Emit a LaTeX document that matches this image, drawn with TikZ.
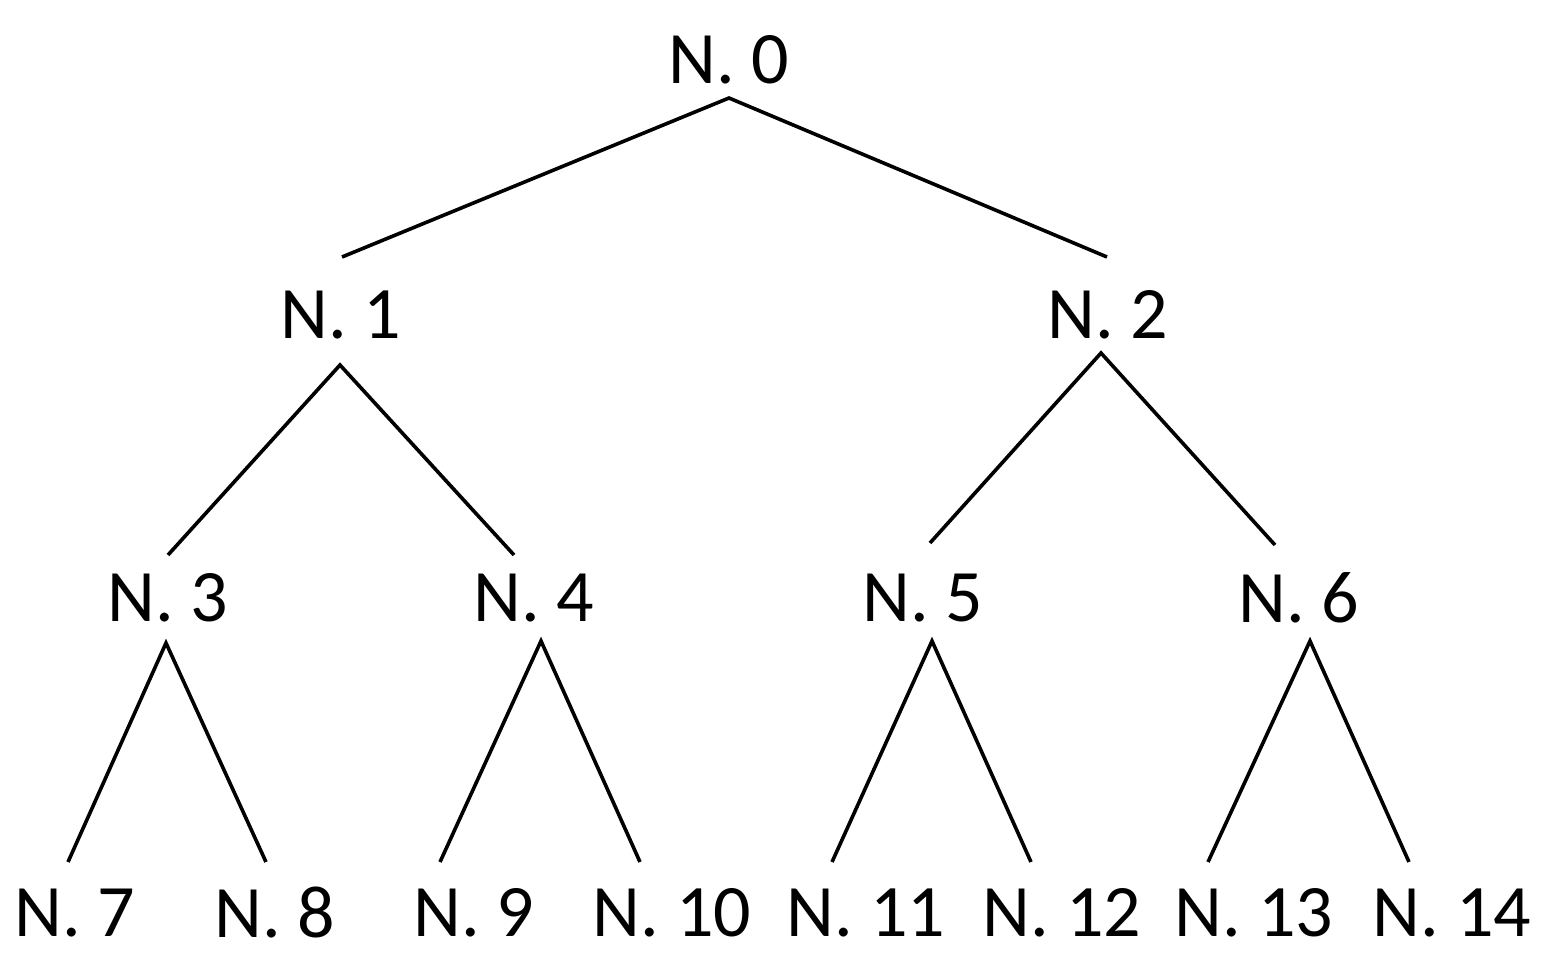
\documentclass[tikz,border=0pt]{standalone}
\usepackage{fontspec}
\setmainfont{Carlito}
\begin{document}
\begin{tikzpicture}[x=1pt,y=-1pt,lab/.style={inner sep=0pt,font=\fontsize{74}{80}\selectfont},edge/.style={line width=3.6pt}]
\useasboundingbox (0,0) rectangle (1553,964);
\node[lab] (n0) at (729,60) {N. 0};
\node[lab] (n1) at (341,315) {N. 1};
\node[lab] (n2) at (1108,315) {N. 2};
\node[lab] (n3) at (168,598) {N. 3};
\node[lab] (n4) at (534,598) {N. 4};
\node[lab] (n5) at (923,598) {N. 5};
\node[lab] (n6) at (1299,598) {N. 6};
\node[lab] (n7) at (75,913) {N. 7};
\node[lab] (n8) at (275,913) {N. 8};
\node[lab] (n9) at (474,913) {N. 9};
\node[lab] (n10) at (672,913) {N. 10};
\node[lab] (n11) at (866,913) {N. 11};
\node[lab] (n12) at (1062,913) {N. 12};
\node[lab] (n13) at (1254,913) {N. 13};
\node[lab] (n14) at (1452,913) {N. 14};
\coordinate (b0) at (729,98);
\coordinate (t1) at (342,257); \coordinate (t2) at (1107,257);
\coordinate (b1) at (340,365); \coordinate (b2) at (1101,353);
\coordinate (t3) at (168,555); \coordinate (t4) at (514,555);
\coordinate (t5) at (930,543); \coordinate (t6) at (1275,545);
\coordinate (b3) at (166,643); \coordinate (b4) at (541,641);
\coordinate (b5) at (932,641); \coordinate (b6) at (1310,641);
\coordinate (t7) at (68,862); \coordinate (t8) at (266,862);
\coordinate (t9) at (440,862); \coordinate (t10) at (640,862);
\coordinate (t11) at (832,862); \coordinate (t12) at (1031,862);
\coordinate (t13) at (1208,862); \coordinate (t14) at (1409,862);
\draw[edge] (t1) -- (b0) -- (t2);
\draw[edge] (t3) -- (b1) -- (t4);
\draw[edge] (t5) -- (b2) -- (t6);
\draw[edge] (t7) -- (b3) -- (t8);
\draw[edge] (t9) -- (b4) -- (t10);
\draw[edge] (t11) -- (b5) -- (t12);
\draw[edge] (t13) -- (b6) -- (t14);
\end{tikzpicture}
\end{document}
